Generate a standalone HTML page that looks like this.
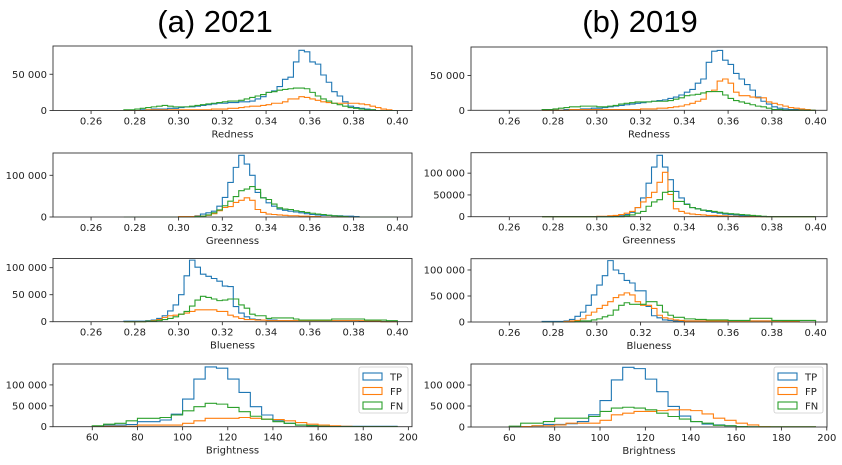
<!DOCTYPE html>
<html><head><meta charset="utf-8">
<style>
html,body{margin:0;padding:0;background:#fff;}
svg{display:block;font-family:"DejaVu Sans","Liberation Sans",sans-serif;}
</style></head>
<body>
<svg id="fig" width="842" height="465" viewBox="0 0 842 465" xmlns="http://www.w3.org/2000/svg">
<text x="215" y="32" font-size="31" text-anchor="middle" font-family="Liberation Sans, Arial, sans-serif">(a) 2021</text>
<text x="640" y="32" font-size="31" text-anchor="middle" font-family="Liberation Sans, Arial, sans-serif">(b) 2019</text>
</svg>
<script>
// Data (counts in thousands). Colour bins: start 0.275, width 0.0025 (50 bins). Brightness bins: start 60, width 5 (27 bins).
const colorBinStart = 0.275, colorBinWidth = 0.0025;
const brightBinStart = 60, brightBinWidth = 5;
const seriesNames = ["TP","FP","FN"];

const red21TP = [0,0,0,1, 1,2,2,2, 3,3,4,5, 5,6,7,8, 9,10,10,11, 11,12,12,13, 16,19,25,27, 33,43,46,67, 83,81,67,64, 49,39,26,20, 12,6,4,3, 2,1,0,0, 0,0];
const red21FP = [0,0,0,0, 1,1,1,1, 1,1,1,1, 1,1,1,1, 2,2,2,3, 3,4,5,6, 6,7,8,10, 10,12,16,16, 19,18,16,14, 12,11,10,10, 10,10,10,9, 8,6,4,2, 1,0];
const red21FN = [1,1,2,3, 4,5,6,7, 6,5,5,5, 6,7,8,9, 10,11,12,13, 13,14,16,18, 20,22,25,26, 28,29,30,31, 31,30,25,20, 16,13,10,8, 6,4,3,2, 1,1,0,0, 0,0];

const red19TP = [0,0,0,0, 1,1,1,2, 2,3,3,4, 5,6,7,8, 9,10,11,12, 13,14,15,17, 19,22,26,30, 39,45,69,85, 86,72,66,53, 45,37,29,19, 13,9,5,3, 2,1,1,1, 0,0];
const red19FP = [0,0,0,0, 0,1,1,1, 1,1,1,1, 1,1,1,1, 1,1,2,2, 2,3,3,4, 5,6,8,10, 13,16,27,29, 42,45,39,26, 21,21,19,18, 18,12,10,8, 6,4,3,2, 1,0];
const red19FN = [1,1,2,3, 4,5,5,6, 6,6,5,5, 6,7,9,10, 11,12,12,12, 13,13,13,14, 16,18,21,22, 23,25,27,27, 27,22,17,14, 12,10,8,6, 5,3,1,1, 0,0,0,0, 0,0];

const grn21TP = [0,0,0,0, 0,0,0,0, 0,0,0,0, 1,3,7,10, 14,26,47,83, 119,148,127,100, 59,46,34,26, 19,16,14,12, 10,8,6,5, 4,4,3,3, 2,2,1,0, 0,0,0,0, 0,0];
const grn21FP = [0,0,0,0, 0,0,0,0, 0,0,1,1, 1,2,2,4, 8,15,23,25, 35,40,46,40, 18,11,7,6, 5,4,3,3, 2,2,1,1, 0,0,0,0, 0,0,0,0, 0,0,0,0, 0,0];
const grn21FN = [0,0,0,0, 0,0,0,0, 0,0,0,0, 0,1,2,5, 10,17,27,38, 49,63,67,73, 66,46,42,31, 22,19,18,15, 13,11,9,7, 6,4,3,2, 1,0,0,0, 0,0,0,0, 0,0];

const grn19TP = [0,0,0,0, 0,0,0,0, 0,0,0,0, 0,1,2,5, 10,21,43,77, 114,141,114,85, 58,43,29,21, 18,15,12,10, 8,6,5,4, 3,2,2,1, 0,0,0,0, 0,0,0,0, 0,0];
const grn19FP = [0,0,0,0, 0,0,0,0, 0,0,1,1, 2,3,5,8, 12,21,34,44, 56,79,102,51, 18,12,8,6, 5,4,3,3, 2,2,1,1, 0,0,0,0, 0,0,0,0, 0,0,0,0, 0,0];
const grn19FN = [0,0,0,0, 0,0,0,0, 0,0,0,0, 0,0,0,2, 4,8,12,24, 34,39,56,58, 35,35,28,21, 18,15,14,12, 10,8,7,6, 5,4,3,2, 1,0,0,0, 0,0,0,0, 0,0];

const blu21TP = [1,1,1,1, 2,3,6,11, 20,31,50,85, 114,101,88,84, 80,75,66,65, 28,16,9,5, 4,3,3,3, 2,2,2,2, 2,2,2,2, 2,2,2,2, 2,2,2,1, 1,1,1,0, 0,0];
const blu21FP = [0,0,0,0, 1,2,4,8, 11,12,14,16, 19,22,22,22, 22,19,19,12, 9,6,4,4, 3,3,2,2, 2,2,2,2, 2,2,2,2, 2,2,2,2, 2,2,2,2, 1,1,1,0, 0,0];
const blu21FN = [0,0,0,0, 1,1,2,4, 6,9,14,19, 29,40,47,45, 42,39,40,42, 42,31,25,14, 11,11,6,7, 7,7,7,5, 3,3,3,3, 3,3,5,5, 5,5,5,5, 3,3,3,3, 2,2];

const blu19TP = [1,1,1,1, 2,5,11,19, 32,52,71,89, 118,100,93,80, 75,60,60,30, 12,8,4,3, 2,2,2,2, 2,2,2,2, 2,2,2,2, 2,2,2,2, 2,2,2,2, 1,1,1,0, 0,0];
const blu19FP = [0,0,0,0, 1,2,3,6, 13,19,26,32, 39,47,52,56, 52,39,32,32, 26,13,8,6, 4,3,2,2, 2,2,2,2, 2,2,2,2, 2,2,2,2, 2,2,2,2, 1,1,1,0, 0,0];
const blu19FN = [0,0,0,0, 0,0,1,2, 2,4,6,10, 13,23,32,37, 34,34,34,39, 39,32,19,13, 9,9,6,6, 5,5,4,4, 4,4,3,3, 3,3,7,7, 7,7,3,3, 3,3,3,3, 3,3];

const bri21TP = [1,4,4,5, 12,12,16,30, 66,114,143,140, 114,82,48,28, 14,8,4,3, 1,1,1,1, 1,1,1];
const bri21FP = [1,1,1,1, 4,4,4,4, 8,14,20,20, 20,22,20,18, 17,14,10,6, 4,2,1,0.5, 0.5,0.5,0.5];
const bri21FN = [2,6,8,14, 20,20,22,28, 38,48,56,54, 46,36,25,18, 12,8,4,2, 1,0.5,0.5,0.5, 0.5,0.5,0.5];

const bri19TP = [1,1,3,6, 6,8,13,29, 63,112,142,139, 114,84,49,26, 13,7,5,3, 1,0.5,0.5,0.5, 0.5,0.5,0.5];
const bri19FP = [1,1,3,3, 5,9,9,9, 16,29,33,37, 37,39,41,41, 39,31,21,16, 9,5,1,0.5, 0.5,0.5,0.5];
const bri19FN = [2,9,9,13, 21,21,21,25, 37,45,47,45, 41,33,25,19, 13,9,4,3, 1,0.5,0.5,0.5, 0.5,0.5,0.5];

const colorTicks = [0.26,0.28,0.30,0.32,0.34,0.36,0.38,0.40];
const colorTickLabels = ["0.26","0.28","0.30","0.32","0.34","0.36","0.38","0.40"];
const brightTicks = [60,80,100,120,140,160,180,200];
const brightTickLabels = ["60","80","100","120","140","160","180","200"];
const colors = ["#1f77b4","#ff7f0e","#2ca02c"];

const NS = "http://www.w3.org/2000/svg";
const svg = document.getElementById("fig");
function mk(tag, attrs, parent){
  const e = document.createElementNS(NS, tag);
  for (const k in attrs) e.setAttribute(k, attrs[k]);
  (parent||svg).appendChild(e);
  return e;
}
function fmt(t, compact){
  if (t === 0) return "0";
  if (compact && t < 100000) return String(t);
  return String(t).replace(/\B(?=(\d{3})+(?!\d))/g, " ");
}

function panel(p){
  const g = mk("g", {});
  
  
  const xs = v => p.x0 + (v - p.xmin) / (p.xmax - p.xmin) * (p.x1 - p.x0);
  const ys = v => p.y1 - v / p.ymax * (p.y1 - p.y0);
  p.series.forEach((arr, si) => {
    let d = "M" + xs(p.binStart).toFixed(2) + "," + ys(0).toFixed(2);
    arr.forEach((v, i) => {
      const a = xs(p.binStart + i * p.binWidth), b = xs(p.binStart + (i + 1) * p.binWidth);
      const y = ys(v * 1000);
      d += " L" + a.toFixed(2) + "," + y.toFixed(2) + " L" + b.toFixed(2) + "," + y.toFixed(2);
    });
    d += " L" + xs(p.binStart + arr.length * p.binWidth).toFixed(2) + "," + ys(0).toFixed(2);
    const path = mk("path", {d: d, fill: "none", stroke: colors[si], "stroke-width": 1.1, "stroke-linejoin": "miter"}, g);
    
    
  });
  const fr = mk("rect", {x: p.x0, y: p.y0, width: p.x1 - p.x0, height: p.y1 - p.y0, fill: "none", stroke: "#333", "stroke-width": 0.9}, g);
  
  
  p.xticks.forEach((t, i) => {
    const x = xs(t);
    mk("line", {x1: x, x2: x, y1: p.y1, y2: p.y1 + 3.5, stroke: "#333", "stroke-width": 0.9}, g);
    const tx = mk("text", {x: x, y: p.y1 + 14, "font-size": 10, "text-anchor": "middle", fill: "#222"}, g);
    tx.textContent = p.xlabels[i];
    
    
  });
  const xt = mk("text", {x: (p.x0 + p.x1) / 2, y: p.y1 + 27, "font-size": 10, "text-anchor": "middle", fill: "#222"}, g);
  xt.textContent = p.xtitle;
  
  
  p.yticks.forEach((t) => {
    const y = ys(t);
    mk("line", {x1: p.x0 - 3.5, x2: p.x0, y1: y, y2: y, stroke: "#333", "stroke-width": 0.9}, g);
    const ty = mk("text", {x: p.x0 - 6, y: y + 3.5, "font-size": 10, "text-anchor": "end", fill: "#222"}, g);
    ty.textContent = fmt(t, p.compact);
    
    
  });
  if (p.legend){
    const lg = mk("g", {}, g);
    
    
    const lx = p.x1 - 53, ly = p.y0 + 3;
    mk("rect", {x: lx, y: ly, width: 49, height: 46, fill: "#fff", stroke: "#ccc", "stroke-width": 0.8, rx: 2}, lg);
    seriesNames.forEach((n, i) => {
      const yy = ly + 6 + i * 14.5;
      const r = mk("rect", {x: lx + 4, y: yy, width: 19, height: 7, fill: "none", stroke: colors[i], "stroke-width": 1.1}, lg);
      
      
      const t = mk("text", {x: lx + 31, y: yy + 7.5, "font-size": 10, fill: "#222"}, lg);
      t.textContent = n;
      
      
    });
  }
}

const cL = {x0: 53, x1: 412}, cR = {x0: 471, x1: 827};
const colorCfg = {binStart: colorBinStart, binWidth: colorBinWidth, xticks: colorTicks, xlabels: colorTickLabels};
const brightCfg = {binStart: brightBinStart, binWidth: brightBinWidth, xticks: brightTicks, xlabels: brightTickLabels};

panel(Object.assign({name: "redness-2021", y0: 46, y1: 110.5, xmin: 0.2426, xmax: 0.4067, ymax: 89000, yticks: [0,50000], xtitle: "Redness", series: [red21TP, red21FP, red21FN]}, cL, colorCfg));
panel(Object.assign({name: "greenness-2021", y0: 153, y1: 217, xmin: 0.2426, xmax: 0.4067, ymax: 153500, yticks: [0,100000], xtitle: "Greenness", series: [grn21TP, grn21FP, grn21FN]}, cL, colorCfg));
panel(Object.assign({name: "blueness-2021", y0: 258.5, y1: 321.7, xmin: 0.2426, xmax: 0.4067, ymax: 117000, yticks: [0,50000,100000], xtitle: "Blueness", series: [blu21TP, blu21FP, blu21FN]}, cL, colorCfg));
panel(Object.assign({name: "brightness-2021", y0: 364, y1: 426.7, xmin: 42.6, xmax: 201.6, ymax: 150000, yticks: [0,50000,100000], xtitle: "Brightness", legend: true, series: [bri21TP, bri21FP, bri21FN]}, cL, brightCfg));

panel(Object.assign({name: "redness-2019", y0: 47, y1: 110.3, xmin: 0.2425, xmax: 0.4052, ymax: 91000, yticks: [0,50000], xtitle: "Redness", series: [red19TP, red19FP, red19FN]}, cR, colorCfg));
panel(Object.assign({name: "greenness-2019", y0: 152.7, y1: 216.7, xmin: 0.2425, xmax: 0.4052, ymax: 147000, yticks: [0,50000,100000], compact: true, xtitle: "Greenness", series: [grn19TP, grn19FP, grn19FN]}, cR, colorCfg));
panel(Object.assign({name: "blueness-2019", y0: 258.7, y1: 322, xmin: 0.2425, xmax: 0.4052, ymax: 121700, yticks: [0,50000,100000], xtitle: "Blueness", series: [blu19TP, blu19FP, blu19FN]}, cR, colorCfg));
panel(Object.assign({name: "brightness-2019", y0: 364, y1: 427, xmin: 43.1, xmax: 200.1, ymax: 150000, yticks: [0,50000,100000], xtitle: "Brightness", legend: true, series: [bri19TP, bri19FP, bri19FN]}, cR, brightCfg));
</script>
</body></html>
